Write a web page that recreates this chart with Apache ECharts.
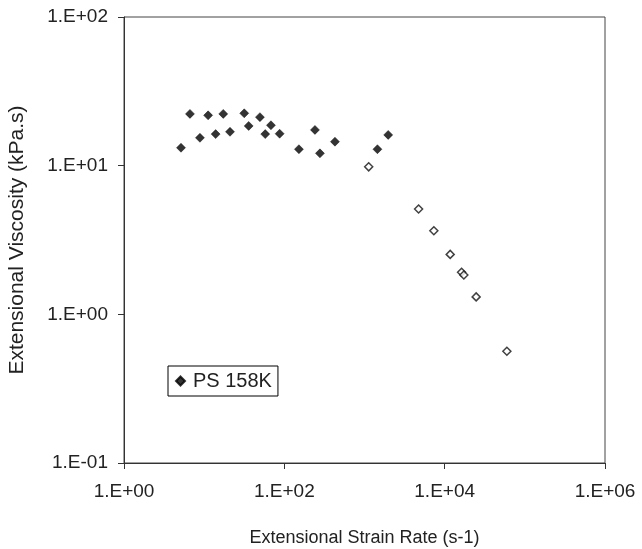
<!DOCTYPE html>
<html>
<head>
<meta charset="utf-8">
<script src="https://cdn.jsdelivr.net/npm/echarts@6/dist/echarts.min.js"></script>
<style>
  html, body { margin: 0; padding: 0; background: #fff; }
  #chart { width: 642px; height: 549px; }
</style>
</head>
<body>
<div id="chart"></div>
<script>
// Extensional viscosity of PS 158K versus extensional strain rate
// Filled points: PS 158K series (shown in legend)
const rateFilled = [5.14, 6.65, 8.86, 11.2, 13.9, 17.3, 21.0, 31.6, 35.9, 49.6, 57.8, 68.1, 87.4, 152, 241, 278, 428, 1449, 1976];
const viscFilled = [13.2, 22.3, 15.4, 21.8, 16.3, 22.3, 16.9, 22.5, 18.5, 21.2, 16.3, 18.7, 16.4, 12.9, 17.4, 12.1, 14.5, 12.9, 16.1];
// Open points: high strain-rate measurements
const rateOpen = [1128, 4728, 7330, 11720, 16250, 17350, 24700, 59700];
const viscOpen = [9.82, 5.11, 3.65, 2.53, 1.92, 1.84, 1.31, 0.564];

const seriesName = 'PS 158K';
const xTitle = 'Extensional Strain Rate (s-1)';
const yTitle = 'Extensional Viscosity (kPa.s)';

function sciLabel(v) {
  const e = Math.round(Math.log10(v));
  const s = e < 0 ? '-' : '+';
  const a = Math.abs(e);
  return '1.E' + s + (a < 10 ? '0' + a : '' + a);
}

const font = 'Liberation Sans, Arial, sans-serif';
const textColor = '#222';

const chart = echarts.init(document.getElementById('chart'), null, { renderer: 'canvas' });
chart.setOption({
  backgroundColor: '#fff',
  animation: false,
  grid: {
    left: 124, top: 17, right: 37, bottom: 86,
    containLabel: false,
    outerBoundsMode: 'none',
    show: true, borderColor: '#444', borderWidth: 1, backgroundColor: 'transparent'
  },
  legend: {
    data: [{ name: seriesName, icon: 'diamond' }],
    left: 168, top: 366,
    orient: 'vertical',
    itemWidth: 9, itemHeight: 9, itemGap: 0,
    padding: [5, 6, 5, 7],
    borderColor: '#000', borderWidth: 1,
    textStyle: { fontFamily: font, fontSize: 20, color: textColor, padding: [0, 0, 0, 3] }
  },
  xAxis: {
    type: 'log', logBase: 10, min: 1, max: 1e6, interval: 2,
    name: xTitle, nameLocation: 'middle', nameGap: 66,
    nameTextStyle: { fontFamily: font, fontSize: 18, color: textColor },
    axisLine: { show: true, lineStyle: { color: '#333', width: 1 } },
    axisTick: { show: true, inside: false, length: 6, lineStyle: { color: '#333' } },
    minorTick: { show: false },
    splitLine: { show: false },
    axisLabel: { formatter: sciLabel, margin: 19, fontFamily: font, fontSize: 19, color: textColor }
  },
  yAxis: {
    type: 'log', logBase: 10, min: 0.1, max: 100, interval: 1,
    name: yTitle, nameLocation: 'middle', nameGap: 96, nameRotate: 90,
    nameTextStyle: { fontFamily: font, fontSize: 21, color: textColor },
    axisLine: { show: true, lineStyle: { color: '#333', width: 1 } },
    axisTick: { show: true, inside: false, length: 6, lineStyle: { color: '#333' } },
    minorTick: { show: false },
    splitLine: { show: false },
    axisLabel: { formatter: sciLabel, margin: 16, fontFamily: font, fontSize: 19, color: textColor }
  },
  series: [
    {
      name: seriesName,
      type: 'scatter',
      symbol: 'diamond',
      symbolSize: 9,
      itemStyle: { color: '#000', borderColor: '#000', borderWidth: 0.5 },
      data: rateFilled.map((x, i) => [x, viscFilled[i]])
    },
    {
      name: 'open',
      type: 'scatter',
      symbol: 'diamond',
      symbolSize: 8,
      itemStyle: { color: '#fff', borderColor: '#111', borderWidth: 1.5 },
      data: rateOpen.map((x, i) => [x, viscOpen[i]])
    }
  ]
});
</script>
</body>
</html>
